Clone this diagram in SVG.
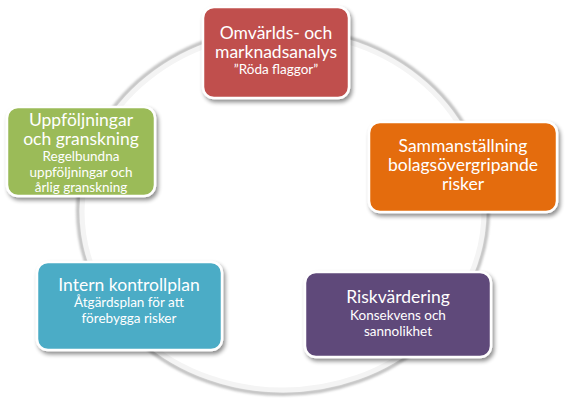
<svg xmlns="http://www.w3.org/2000/svg" width="568" height="404" viewBox="0 0 568 404">
  <defs>
    <filter id="sh" x="-10%" y="-10%" width="130%" height="140%">
      <feGaussianBlur in="SourceAlpha" stdDeviation="2"/>
      <feOffset dx="2" dy="3" result="b"/>
      <feComponentTransfer><feFuncA type="linear" slope="0.45"/></feComponentTransfer>
      <feMerge><feMergeNode/><feMergeNode in="SourceGraphic"/></feMerge>
    </filter>
    <filter id="rs" x="-10%" y="-10%" width="120%" height="120%">
      <feGaussianBlur stdDeviation="1.2"/>
    </filter>
  </defs>
  <style>
    .box { stroke: #ffffff; stroke-width: 2.5; filter: url(#sh); }
    .t { font-family: Lato, "Open Sans", "Liberation Sans", sans-serif; fill: #ffffff; text-anchor: middle; }
    .big { font-size: 17.5px; }
    .small { font-size: 13.5px; }
  </style>
  <rect width="568" height="404" fill="#ffffff"/>
  <g id="connectors">
    <ellipse cx="283" cy="211" rx="205" ry="183" fill="none" stroke="#c4c4c4" stroke-width="4" filter="url(#rs)"/>
    <ellipse cx="283" cy="211" rx="201" ry="179" fill="none" stroke="#f4f4f4" stroke-width="5"/>
  </g>
  <g id="node-omvarld">
    <rect class="box" x="203" y="7" width="146" height="91" rx="11" fill="#c0504d"/>
    <text class="t big" x="276" y="39">Omvärlds- och</text>
    <text class="t big" x="276" y="58">marknadsanalys</text>
    <text class="t small" x="276" y="74">”Röda flaggor”</text>
  </g>
  <g id="node-sammanstallning">
    <rect class="box" x="369" y="122" width="188" height="90" rx="11" fill="#e46c0a"/>
    <text class="t big" x="463" y="152">Sammanställning</text>
    <text class="t big" x="463" y="171">bolagsövergripande</text>
    <text class="t big" x="463" y="190">risker</text>
  </g>
  <g id="node-riskvardering">
    <rect class="box" x="305" y="272" width="186" height="85" rx="11" fill="#5f497a"/>
    <text class="t big" x="398" y="303">Riskvärdering</text>
    <text class="t small" x="398" y="320">Konsekvens och</text>
    <text class="t small" x="398" y="336">sannolikhet</text>
  </g>
  <g id="node-intern">
    <rect class="box" x="37" y="262" width="185" height="88" rx="11" fill="#4bacc6"/>
    <text class="t big" x="129" y="291">Intern kontrollplan</text>
    <text class="t small" x="129" y="307">Åtgärdsplan för att</text>
    <text class="t small" x="129" y="323">förebygga risker</text>
  </g>
  <g id="node-uppfoljning">
    <rect class="box" x="7" y="107" width="148" height="89" rx="11" fill="#9bbb59"/>
    <text class="t big" x="81" y="126">Uppföljningar</text>
    <text class="t big" x="81" y="145">och granskning</text>
    <text class="t small" x="81" y="161">Regelbundna</text>
    <text class="t small" x="81" y="177">uppföljningar och</text>
    <text class="t small" x="81" y="192">årlig granskning</text>
  </g>
</svg>
